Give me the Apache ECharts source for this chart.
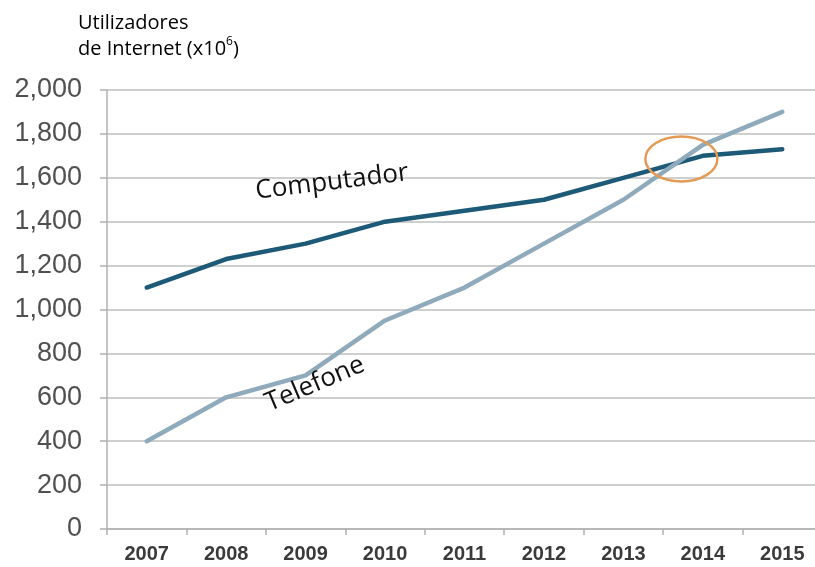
<!DOCTYPE html>
<html><head><meta charset="utf-8">
<script src="https://cdn.jsdelivr.net/npm/echarts@6/dist/echarts.min.js"></script>
<style>html,body{margin:0;padding:0;background:#fff}#c{width:815px;height:567px}</style>
</head><body><div id="c"></div>
<script>
const years = ['2007','2008','2009','2010','2011','2012','2013','2014','2015'];
const computador = [1100, 1230, 1300, 1400, 1450, 1500, 1600, 1700, 1730];
const telefone = [400, 600, 700, 950, 1100, 1300, 1500, 1750, 1900];
const yTicks = [0, 200, 400, 600, 800, 1000, 1200, 1400, 1600, 1800, 2000];

const titleRich = {
  a: {fontFamily: 'Open Sans', fontSize: 20, color: '#555', lineHeight: 26},
  s: {fontFamily: 'Open Sans', fontSize: 12, color: '#555', lineHeight: 26, padding: [0,0,14,0]}
};

const chart = echarts.init(document.getElementById('c'), null, {renderer:'canvas'});
chart.setOption({
  animation: false,
  backgroundColor: '#fff',
  grid: {left: 107, top: 90, bottom: 38, width: 715, containLabel: false, outerBoundsMode: 'none'},
  xAxis: {
    type: 'category', data: years, boundaryGap: true,
    axisLine: {lineStyle: {color: '#b0b0b0', width: 1.5}},
    axisTick: {show: true, length: 6, lineStyle: {color: '#b0b0b0', width: 1.5}},
    axisLabel: {margin: 15, fontFamily: 'Liberation Sans', fontWeight: 'bold', fontSize: 20, color: '#3a3a3a'},
    splitLine: {show: false}
  },
  yAxis: {
    type: 'value', min: yTicks[0], max: yTicks[yTicks.length-1], interval: 200,
    axisLine: {show: true, lineStyle: {color: '#b0b0b0', width: 1.5}},
    axisTick: {show: true, length: 7, lineStyle: {color: '#b0b0b0', width: 1.5}},
    axisLabel: {margin: 25, fontFamily: 'Liberation Sans', fontSize: 27, color: '#505050',
      formatter: v => v.toLocaleString('en-US')},
    splitLine: {show: true, lineStyle: {color: '#cfcfcf', width: 2}}
  },
  series: [
    {name: 'Computador', type: 'line', data: computador, symbol: 'none',
     lineStyle: {color: '#1d5a78', width: 4.5, cap: 'round', join: 'round'}, z: 3},
    {name: 'Telefone', type: 'line', data: telefone, symbol: 'none',
     lineStyle: {color: '#8eaabb', width: 4.5, cap: 'round', join: 'round'}, z: 4}
  ]
});

// ellipse around the crossing, placed from data coordinates (between 2013 and 2014)
const pA = chart.convertToPixel({xAxisIndex: 0, yAxisIndex: 0}, ['2013', 1686]);
const pB = chart.convertToPixel({xAxisIndex: 0, yAxisIndex: 0}, ['2014', 1686]);
const t = 0.73;
const cx = pA[0] + (pB[0] - pA[0]) * t, cy = pA[1];

chart.setOption({graphic: [
  {type: 'text', left: 78, top: 13, style: {
      text: '{a|Utilizadores}\n{a|de Internet (x10}{s|6}{a|)}', rich: titleRich}},
  {type: 'ellipse', shape: {cx: cx, cy: cy, rx: 36, ry: 22.5},
   style: {fill: 'none', stroke: '#e39a55', lineWidth: 2.5}, z: 10},
  {type: 'text', x: 332, y: 182, rotation: 7*Math.PI/180,
   style: {text: 'Computador', fontFamily: 'Open Sans', fontSize: 26, fill: '#111', align: 'center', verticalAlign: 'middle'}, z: 10},
  {type: 'text', x: 315, y: 384, rotation: 23*Math.PI/180,
   style: {text: 'Telefone', fontFamily: 'Open Sans', fontSize: 26, fill: '#111', align: 'center', verticalAlign: 'middle'}, z: 10}
]});
</script></body></html>
